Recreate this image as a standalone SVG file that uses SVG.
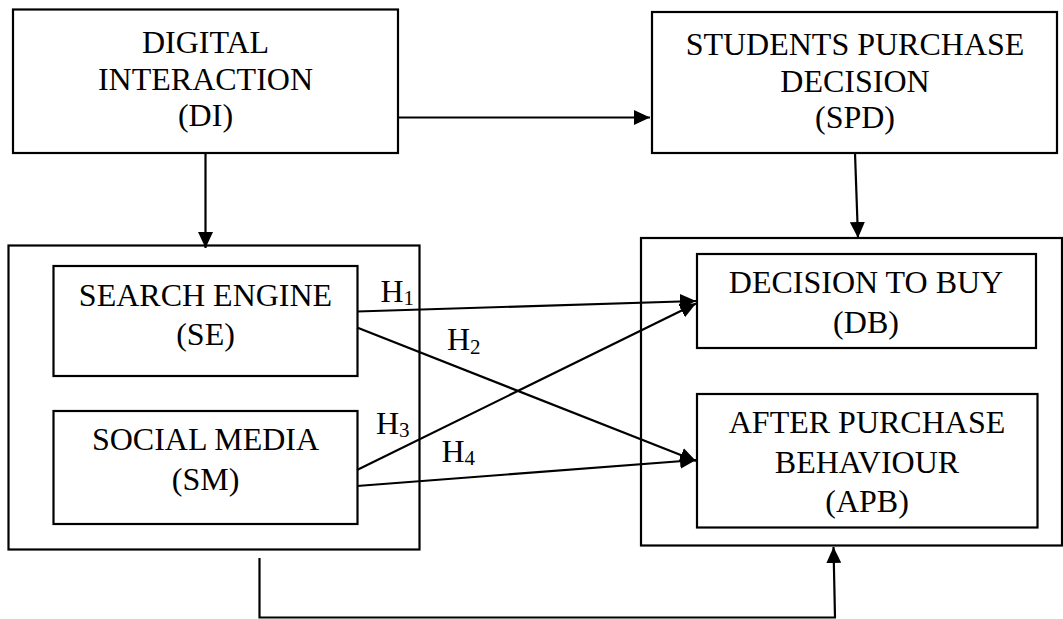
<svg xmlns="http://www.w3.org/2000/svg" width="1063" height="619" viewBox="0 0 1063 619">
<style>
.box{fill:none;stroke:#000;stroke-width:2.2}
.cont{fill:none;stroke:#000;stroke-width:2.2}
.t{font-family:"Liberation Serif","Times New Roman",serif;font-size:32px;fill:#000;text-anchor:middle}
.h{font-family:"Liberation Serif","Times New Roman",serif;font-size:32px;fill:#000}
.sub{font-size:21px}
.ln{fill:none;stroke:#000;stroke-width:2.2}
</style>
<defs>
<marker id="ah" markerUnits="userSpaceOnUse" markerWidth="16" markerHeight="15" refX="16" refY="7.5" orient="auto">
<path d="M0,0 L16,7.5 L0,15 z" fill="#000"/>
</marker>
</defs>
<rect width="1063" height="619" fill="#fff"/>

<g id="connectors">
<line class="ln" x1="399" y1="117.5" x2="650" y2="117.5" marker-end="url(#ah)"/>
<line class="ln" x1="205.5" y1="153" x2="205.5" y2="248" marker-end="url(#ah)"/>
<line class="ln" x1="855" y1="153" x2="858" y2="238" marker-end="url(#ah)"/>
<line class="ln" x1="357" y1="311.5" x2="696" y2="301" marker-end="url(#ah)"/>
<line class="ln" x1="357" y1="327.5" x2="696" y2="461" marker-end="url(#ah)"/>
<line class="ln" x1="357" y1="470" x2="696" y2="303.5" marker-end="url(#ah)"/>
<line class="ln" x1="357" y1="486" x2="696" y2="460" marker-end="url(#ah)"/>
<polyline class="ln" points="259.5,558 259.5,617.5 836,617.5"/>
<line class="ln" x1="835" y1="617.5" x2="833.5" y2="547" marker-end="url(#ah)"/>
</g>

<g id="DI">
<rect class="box" x="13" y="9.5" width="385" height="143.5"/>
<text class="t" x="205.5" y="53">DIGITAL</text>
<text class="t" x="205.5" y="90">INTERACTION</text>
<text class="t" x="205.5" y="126">(DI)</text>
</g>

<g id="SPD">
<rect class="box" x="652" y="12" width="405" height="141"/>
<text class="t" x="855" y="54.5">STUDENTS PURCHASE</text>
<text class="t" x="855" y="92">DECISION</text>
<text class="t" x="855" y="128">(SPD)</text>
</g>

<g id="DI-group">
<rect class="cont" x="8.5" y="245.5" width="411" height="304"/>
</g>

<g id="SE">
<rect class="box" x="53.5" y="266" width="304" height="110"/>
<text class="t" x="205.5" y="306">SEARCH ENGINE</text>
<text class="t" x="205.5" y="345">(SE)</text>
</g>

<g id="SM">
<rect class="box" x="53.5" y="411" width="304" height="113"/>
<text class="t" x="205.5" y="450">SOCIAL MEDIA</text>
<text class="t" x="205.5" y="490">(SM)</text>
</g>

<g id="SPD-group">
<rect class="cont" x="641" y="238" width="421" height="307.5"/>
</g>

<g id="DB">
<rect class="box" x="697" y="254" width="339" height="94"/>
<text class="t" x="866" y="293">DECISION TO BUY</text>
<text class="t" x="866" y="333">(DB)</text>
</g>

<g id="APB">
<rect class="box" x="697" y="394" width="340.5" height="133.5"/>
<text class="t" x="867" y="433">AFTER PURCHASE</text>
<text class="t" x="867" y="473">BEHAVIOUR</text>
<text class="t" x="867" y="512">(APB)</text>
</g>

<g id="labels">
<text class="h" x="380.5" y="301.5">H<tspan class="sub" dy="3.5">1</tspan></text>
<text class="h" x="447" y="350">H<tspan class="sub" dy="3.5">2</tspan></text>
<text class="h" x="376" y="433.5">H<tspan class="sub" dy="3.5">3</tspan></text>
<text class="h" x="441.5" y="461.5">H<tspan class="sub" dy="3.5">4</tspan></text>
</g>
</svg>
